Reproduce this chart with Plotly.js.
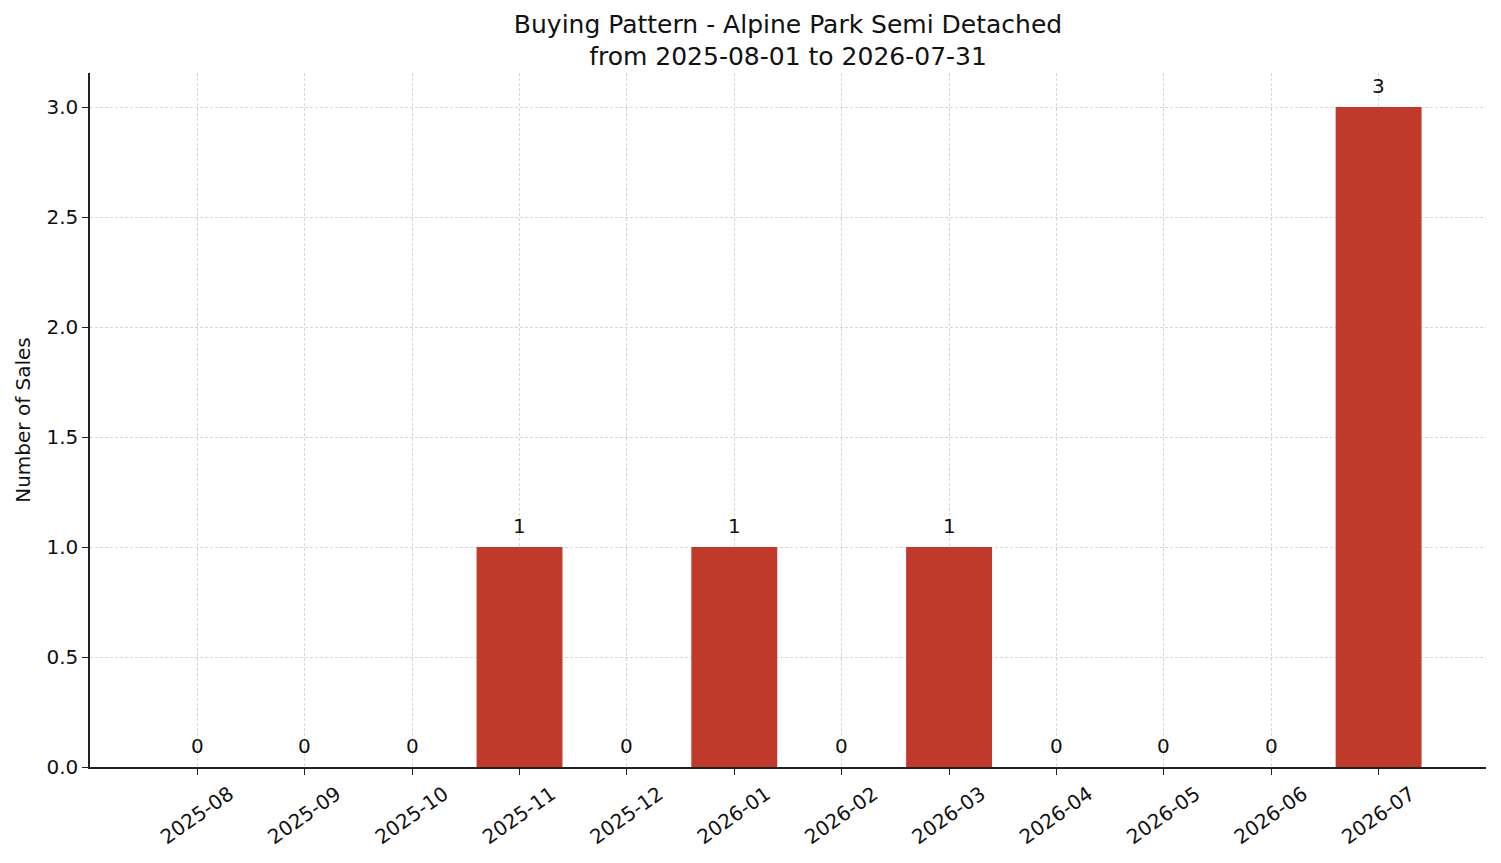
<!DOCTYPE html>
<html>
<head>
<meta charset="utf-8">
<script src="https://cdn.plot.ly/plotly-3.0.1.min.js"></script>
<style>
  html, body { margin: 0; padding: 0; background: white; }
  #chart { width: 1501px; height: 863px; }
</style>
</head>
<body>
<div id="chart"></div>
<script>
// monthly sales counts
var months = ['2025-08', '2025-09', '2025-10', '2025-11', '2025-12', '2026-01',
              '2026-02', '2026-03', '2026-04', '2026-05', '2026-06', '2026-07'];
var sales = [0, 0, 0, 1, 0, 1, 0, 1, 0, 0, 0, 3];

var font = 'DejaVu Sans, sans-serif';
var idx = months.map(function(m, i) { return i; });

var trace = {
    x: idx,
    y: sales,
    type: 'bar',
    width: 0.8,
    marker: { color: '#c0392b' },
    hoverinfo: 'x+y'
};

// value labels above each bar
var labels = sales.map(function(v, i) {
    return {
        x: i, y: v, xref: 'x', yref: 'y',
        text: String(v),
        showarrow: false,
        yanchor: 'middle',
        yshift: 21,
        font: { family: font, size: 20, color: '#111' }
    };
});

var layout = {
    width: 1501,
    height: 863,
    margin: { l: 90, r: 15, t: 73, b: 96 },
    paper_bgcolor: 'white',
    plot_bgcolor: 'white',
    showlegend: false,
    annotations: labels,
    title: {
        text: 'Buying Pattern - Alpine Park Semi Detached<br>from 2025-08-01 to 2026-07-31',
        font: { family: font, size: 25, color: '#111' },
        x: 0.525,
        xanchor: 'center',
        yref: 'container',
        y: 0.962,
        yanchor: 'middle'
    },
    xaxis: {
        range: [-1, 12],
        tickmode: 'array',
        tickvals: idx,
        ticktext: months,
        tickangle: -35,
        ticklabelshift: 32,
        ticks: 'outside',
        ticklen: 6,
        tickcolor: '#222',
        showline: true,
        linecolor: '#222',
        linewidth: 1.5,
        showgrid: true,
        gridcolor: '#d6d6d6',
        griddash: '3px,2px',
        gridwidth: 0.8,
        zeroline: false,
        tickfont: { family: font, size: 20, color: '#111' }
    },
    yaxis: {
        range: [0, 3.155],
        tickmode: 'array',
        tickvals: [0, 0.5, 1, 1.5, 2, 2.5, 3],
        ticktext: ['0.0', '0.5', '1.0', '1.5', '2.0', '2.5', '3.0'],
        ticks: 'outside',
        ticklen: 6,
        tickcolor: '#222',
        showline: true,
        linecolor: '#222',
        linewidth: 1.5,
        showgrid: true,
        gridcolor: '#d6d6d6',
        griddash: '3px,2px',
        gridwidth: 0.8,
        zeroline: false,
        tickfont: { family: font, size: 20, color: '#111' },
        title: {
            text: 'Number of Sales',
            font: { family: font, size: 20, color: '#111' },
            standoff: 10
        }
    }
};

Plotly.newPlot(document.getElementById('chart'), [trace], layout, { displayModeBar: false });
</script>
</body>
</html>
